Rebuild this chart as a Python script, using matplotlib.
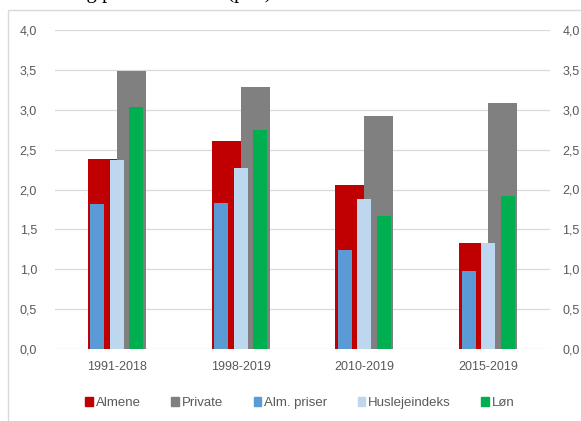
import numpy as np
import matplotlib.pyplot as plt
from matplotlib.patches import Rectangle, Patch
from matplotlib.ticker import FuncFormatter

# values (pct. per year)
perioder = ['1991-2018', '1998-2019', '2010-2019', '2015-2019']
almene = [2.38, 2.61, 2.06, 1.33]
private = [3.49, 3.29, 2.92, 3.09]
alm_priser = [1.82, 1.83, 1.24, 0.98]
husleje = [2.37, 2.27, 1.88, 1.33]
loen = [3.04, 2.74, 1.67, 1.92]

yticks = np.arange(0, 4.01, 0.5)
tekst = '#595959'

plt.rcParams['font.family'] = ['Liberation Sans', 'DejaVu Sans']

fig = plt.figure(figsize=(5.81, 4.21), dpi=100)

# chart frame (runs off the right and bottom edge)
fig.patches.append(Rectangle((8 / 581, -0.02), 1.0, 1 - 10 / 421 + 0.02,
                             transform=fig.transFigure, fill=False,
                             edgecolor='#D9D9D9', linewidth=1.0))

# cut-off heading line from the document above, only descenders show
fig.text(12 / 581, 1 + 2 / 421, 'Udvikling pr. år i almene (pct.)',
         family='Liberation Serif', fontsize=15, color='black',
         va='baseline', ha='left')

ax = fig.add_axes([55 / 581, 72 / 421, 495 / 581, 319 / 421])
ax2 = ax.twinx()

x = np.arange(len(perioder))
bw = 0.234
ax.bar(x - bw / 2, almene, bw, color='#C00000', zorder=2)
ax.bar(x + bw / 2, private, bw, color='#808080', zorder=2)

sw = 0.113
step = 0.157
ax2.bar(x - step, alm_priser, sw, color='#5B9BD5', zorder=2)
ax2.bar(x, husleje, sw, color='#BDD7EE', zorder=2)
ax2.bar(x + step, loen, sw, color='#00B050', zorder=2)

komma = FuncFormatter(lambda v, p: f'{v:.1f}'.replace('.', ','))
for a in (ax, ax2):
    a.set_ylim(0, 4)
    a.set_yticks(yticks)
    a.yaxis.set_major_formatter(komma)
    a.set_xlim(-0.5, len(perioder) - 0.5)
    for s in a.spines.values():
        s.set_visible(False)
    a.tick_params(length=0, labelsize=9, labelcolor=tekst)

ax.tick_params(axis='y', pad=13)
ax2.tick_params(axis='y', pad=9)
ax.set_xticks(x)
ax.set_xticklabels(perioder)
ax.tick_params(axis='x', pad=9)
ax.grid(axis='y', color='#D9D9D9', linewidth=0.9, zorder=0)
ax.set_axisbelow(True)
ax2.patch.set_visible(False)

handles = [Patch(color='#C00000', label='Almene'),
           Patch(color='#808080', label='Private'),
           Patch(color='#5B9BD5', label='Alm. priser'),
           Patch(color='#BDD7EE', label='Huslejeindeks'),
           Patch(color='#00B050', label='Løn')]
fig.legend(handles=handles, loc='center', bbox_to_anchor=(300 / 581, 1 - 403 / 421),
           ncol=5, frameon=False, fontsize=9.5, labelcolor=tekst,
           handlelength=0.6, handleheight=0.6, handletextpad=0.2,
           columnspacing=2.3)

fig.savefig('out.png', dpi=100)
